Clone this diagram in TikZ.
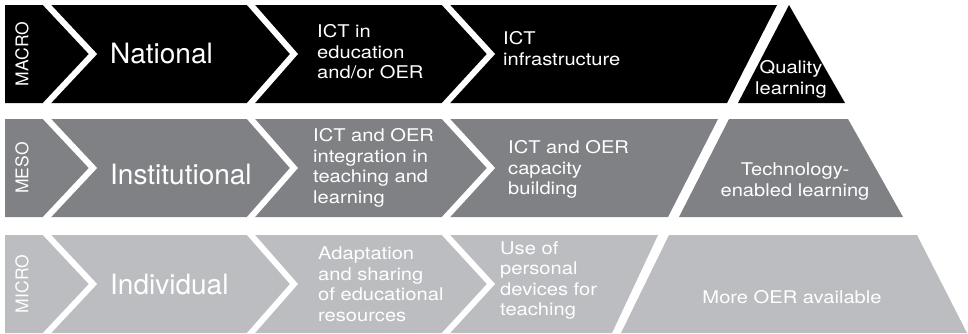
\documentclass[tikz,border=0pt]{standalone}
\usepackage{fontspec}
\setmainfont{TeX Gyre Heros}
\newfontfamily\widefont[FakeStretch=1.15]{TeX Gyre Heros}
\definecolor{rowA}{RGB}{0,0,0}
\definecolor{rowB}{RGB}{128,129,132}
\definecolor{rowC}{RGB}{188,189,192}
\begin{document}
\begin{tikzpicture}[x=1pt,y=-1pt,
  chev/.style={draw=white, line width=6pt, line join=miter, line cap=rect},
  small/.style={font=\widefont\fontsize{17.5}{20.5}\selectfont, text=white, inner sep=0pt, align=left, anchor=north west},
  smallc/.style={small, align=center, anchor=north},
  big/.style={font=\fontsize{28}{32}\selectfont, text=white, inner sep=0pt, anchor=base west},
  lvl/.style={font=\fontsize{17.5}{20}\selectfont, text=white, rotate=90, inner sep=0pt}]
\useasboundingbox (0,0) rectangle (968,333);
\fill[white] (0,0) rectangle (968,333);
% row 1 (macro)
\fill[rowA] (5,5) -- (777,5) -- (727,103) -- (5,103) -- cycle;
\fill[rowA] (789,5) -- (845,103) -- (738,103) -- cycle;
% row 2 (meso)
\fill[rowB] (5,119) -- (718,119) -- (668,217) -- (5,217) -- cycle;
\fill[rowB] (729,119) -- (848,119) -- (903,217) -- (679,217) -- cycle;
% row 3 (micro)
\fill[rowC] (5,235) -- (658,235) -- (612,333) -- (5,333) -- cycle;
\fill[rowC] (669,235) -- (917,235) -- (967,333) -- (621,333) -- cycle;
% chevron cuts
\foreach \yt/\ym/\yb in {5/54/103, 119/168/217, 235/284/333}{
  \draw[chev] (47,\yt) -- (93,\ym) -- (47,\yb);
  \draw[chev] (251,\yt) -- (294,\ym) -- (251,\yb);
  \draw[chev] (446,\yt) -- (491,\ym) -- (446,\yb);
}
% level labels
\node[lvl] (macro) at (22,54) {MACRO};
\node[lvl] (meso) at (22,168) {MESO};
\node[lvl] (micro) at (22,284) {MICRO};
% row 1 texts
\node[big] (national) at (110,63.3) {National};
\node[small] (ictedu) at (317,23.15) {\strut ICT in\\education\\and/or OER};
\node[small] (ictinf) at (503,30.15) {\strut ICT\\infrastructure};
\node[smallc] (quality) at (791,59.15) {\strut Quality\\learning};
% row 2 texts
\node[big] (institutional) at (110,184) {Institutional};
\node[small] (ictint) at (313,127.35) {\strut ICT and OER\\integration in\\teaching and\\learning};
\node[small] (ictcap) at (508,139) {\strut ICT and OER\\capacity\\building};
\node[smallc] (techen) at (795,161.15) {\strut Technology-\\enabled learning};
% row 3 texts
\node[big] (individual) at (110,294) {Individual};
\node[small] (adapt) at (318,245.15) {\strut Adaptation\\and sharing\\of educational\\resources};
\node[small] (useof) at (500,239.65) {\strut Use of\\personal\\devices for\\teaching};
\node[small, anchor=base] (moreoer) at (792,303.3) {More OER available};
\end{tikzpicture}
\end{document}
